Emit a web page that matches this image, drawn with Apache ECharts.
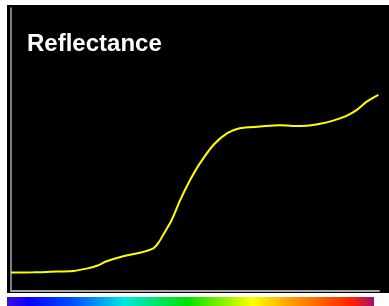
<!DOCTYPE html>
<html>
<head>
<meta charset="utf-8">
<script src="https://cdn.jsdelivr.net/npm/echarts@6/dist/echarts.min.js"></script>
<style>
  html, body { margin: 0; padding: 0; background: #fff; }
  #chart { width: 389px; height: 306px; }
</style>
</head>
<body>
<div id="chart"></div>
<script>
// wavelength (nm) and reflectance (%)
var wavelengths = [400, 436, 464, 502, 523, 540, 556, 583, 610, 632, 640, 648, 662, 676, 692, 708, 730, 752, 773, 806, 838, 860, 882, 904, 925, 947, 964, 980, 999];
var reflectance = [6.5, 6.6, 6.8, 7.1, 7.9, 8.9, 10.5, 12.3, 13.5, 15.1, 16.9, 19.8, 25.1, 32.2, 39.2, 45.1, 51.6, 55.7, 57.5, 58.1, 58.6, 58.3, 58.4, 59.1, 60.2, 61.9, 64.0, 66.9, 69.3];

var points = wavelengths.map(function (w, i) { return [w, reflectance[i]]; });

var chart = echarts.init(document.getElementById('chart'));
chart.setOption({
  animation: false,
  backgroundColor: '#fff',
  title: {
    text: 'Reflectance',
    left: 22,
    top: 27,
    textStyle: { color: '#fff', fontFamily: 'Liberation Sans', fontWeight: 'bold', fontSize: 24 }
  },
  grid: { left: 11, right: 10, top: 8, bottom: 15 },
  xAxis: {
    type: 'value',
    min: 400,
    max: 1000,
    axisLine: { show: true, lineStyle: { color: '#a8a8a8', width: 2 } },
    axisTick: { show: false },
    axisLabel: { show: false },
    splitLine: { show: false }
  },
  yAxis: {
    type: 'value',
    min: 0,
    max: 100,
    axisLine: { show: true, lineStyle: { color: '#a8a8a8', width: 1.5 } },
    axisTick: { show: false },
    axisLabel: { show: false },
    splitLine: { show: false }
  },
  graphic: [
    {
      type: 'rect',
      z: -10,
      silent: true,
      shape: { x: 7, y: 5, width: 382, height: 288 },
      style: { fill: '#000' }
    },
    {
      type: 'rect',
      silent: true,
      shape: { x: 7, y: 297, width: 367, height: 9 },
      style: {
        fill: new echarts.graphic.LinearGradient(0, 0, 1, 0, [
          { offset: 0, color: '#3a10d8' },
          { offset: 0.06, color: '#0a00ff' },
          { offset: 0.18, color: '#0050ff' },
          { offset: 0.32, color: '#00e8e0' },
          { offset: 0.49, color: '#00e000' },
          { offset: 0.67, color: '#ffff00' },
          { offset: 0.77, color: '#ffa000' },
          { offset: 0.94, color: '#ff2000' },
          { offset: 1, color: '#a01070' }
        ])
      }
    }
  ],
  series: [
    {
      type: 'line',
      data: points,
      smooth: 0.3,
      symbol: 'none',
      lineStyle: { color: '#ffff00', width: 2 }
    }
  ]
});
</script>
</body>
</html>
